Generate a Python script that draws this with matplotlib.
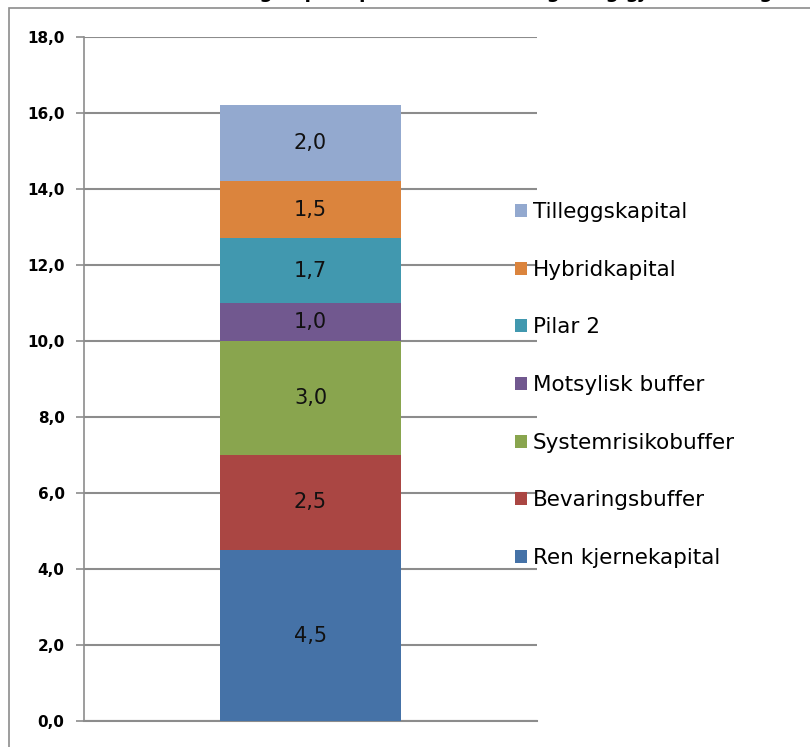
import matplotlib.pyplot as plt
from matplotlib.patches import Patch, Rectangle

# data (bottom to top)
series = ["Ren kjernekapital", "Bevaringsbuffer", "Systemrisikobuffer",
          "Motsylisk buffer", "Pilar 2", "Hybridkapital", "Tilleggskapital"]
values = [4.5, 2.5, 3.0, 1.0, 1.7, 1.5, 2.0]
colors = ["#4572A7", "#AA4643", "#89A54E", "#71588F", "#4198AF", "#DB843D", "#93A9CF"]
yticks = [0, 2, 4, 6, 8, 10, 12, 14, 16, 18]

fig = plt.figure(figsize=(8.10, 7.47), dpi=100)
ax = fig.add_axes([84/810, 1-721/747, (537-84)/810, (721-37)/747])

# outer frame of the chart area (runs off right/bottom edge)
fig.patches.append(Rectangle((9/810, -0.05), 1.0, 1-7.5/747+0.05, transform=fig.transFigure,
                             fill=False, edgecolor="#8c8c8c", linewidth=1.2, zorder=5))

# title, mostly cut off at the top edge as in the original
fig.text(430/810, 1+2/747, "Minstekrav til ansvarlig kapital presentert i høringen og gjeldende regelverk",
         ha="center", va="baseline", fontsize=13.5, fontweight="bold")

bottom = 0
for name, v, c in zip(series, values, colors):
    ax.bar(0, v, 0.4, bottom=bottom, color=c, zorder=3)
    ax.text(0, bottom + v/2, f"{v:.1f}".replace(".", ","), ha="center", va="center",
            fontsize=15, color="#111111", zorder=4)
    bottom += v

ax.set_xlim(-0.5, 0.5)
ax.set_ylim(0, 18)
ax.set_yticks(yticks)
ax.set_yticklabels([f"{t:.1f}".replace(".", ",") for t in yticks], fontsize=11, fontweight="bold")
ax.set_xticks([])
ax.grid(axis="y", color="#8c8c8c", linewidth=1.5, zorder=0)
for s in ["top", "right"]:
    ax.spines[s].set_visible(False)
ax.spines["left"].set_color("#8c8c8c")
ax.spines["bottom"].set_color("#8c8c8c")
ax.spines["left"].set_linewidth(1.2)
ax.spines["bottom"].set_linewidth(1.5)
ax.tick_params(axis="y", length=6, color="#8c8c8c", width=1.2, pad=8)

handles = [Patch(facecolor=c) for c in colors][::-1]
fig.legend(handles, series[::-1], loc="center left", bbox_to_anchor=(504/810, 1-385/747),
           frameon=False, fontsize=15.5, handlelength=0.55, handleheight=0.55,
           handletextpad=0.3, labelspacing=1.75, borderpad=0)

plt.savefig("out.png", dpi=100)
